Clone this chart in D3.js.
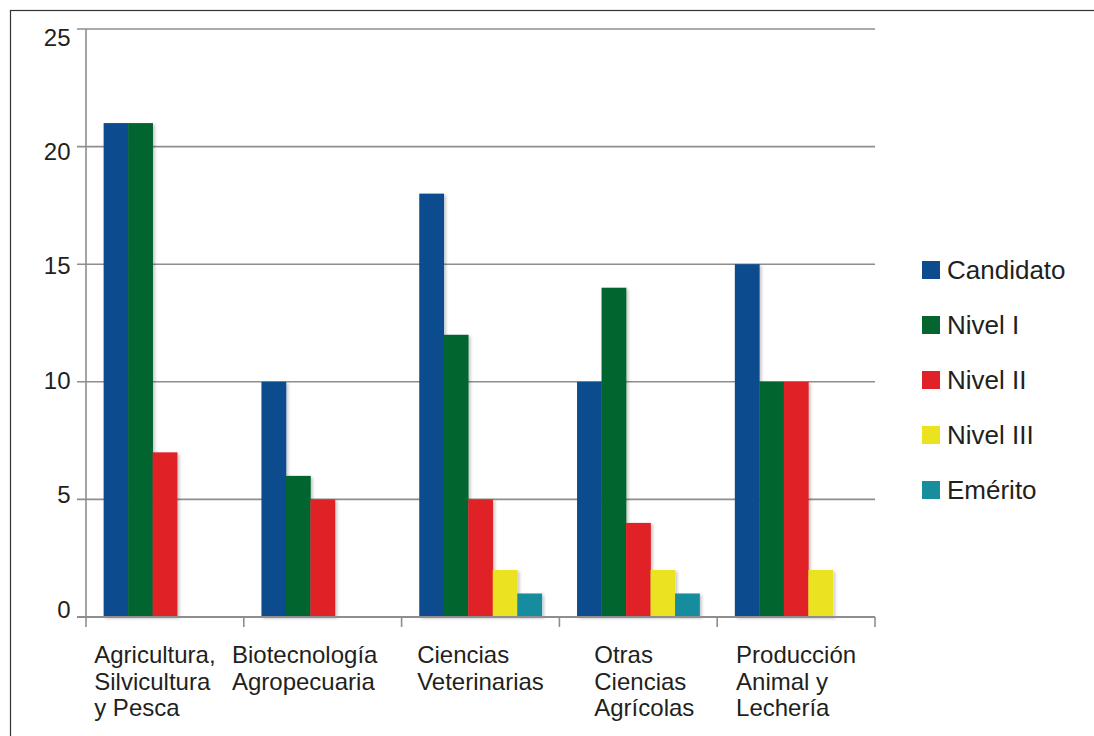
<!DOCTYPE html>
<html>
<head>
<meta charset="utf-8">
<script src="https://cdn.jsdelivr.net/npm/d3@7"></script>
<style>
  html, body { margin: 0; padding: 0; background: #fff; }
  svg { display: block; font-family: "Liberation Sans", Arial, sans-serif; }
</style>
</head>
<body>
<svg id="chart" width="1094" height="736"></svg>
<script>
// categories (one array of lines per label)
const categories = [
  ['Agricultura,', 'Silvicultura', 'y Pesca'],
  ['Biotecnología', 'Agropecuaria'],
  ['Ciencias', 'Veterinarias'],
  ['Otras', 'Ciencias', 'Agrícolas'],
  ['Producción', 'Animal y', 'Lechería']
];
const seriesNames = ['Candidato', 'Nivel I', 'Nivel II', 'Nivel III', 'Emérito'];
const candidato = [21, 10, 18, 10, 15];
const nivel1 = [21, 6, 12, 14, 10];
const nivel2 = [7, 5, 5, 4, 10];
const nivel3 = [0, 0, 2, 2, 2];
const emerito = [0, 0, 1, 1, 0];
const yTicks = [0, 5, 10, 15, 20, 25];

const seriesValues = [candidato, nivel1, nivel2, nivel3, emerito];
const colors = ['#0d4b8f', '#05652f', '#e02127', '#ebe220', '#178d9e'];
const textColor = '#231f20';
const gridColor = '#8e8e8e';

const svg = d3.select('#chart');

// outer frame, right/bottom edges fall outside the picture
svg.append('rect')
  .attr('x', 10.5).attr('y', 10.5)
  .attr('width', 1100).attr('height', 800)
  .attr('fill', 'none')
  .attr('stroke', '#333')
  .attr('stroke-width', 1.2);

const defs = svg.append('defs');
defs.append('filter')
  .attr('id', 'shadow')
  .attr('x', '-20%').attr('y', '-5%')
  .attr('width', '150%').attr('height', '115%')
  .append('feDropShadow')
  .attr('dx', 2).attr('dy', 1.5)
  .attr('stdDeviation', 1.6)
  .attr('flood-color', '#000')
  .attr('flood-opacity', 0.22);

const plot = { left: 86, right: 875, top: 29, bottom: 617 };

const x = d3.scaleBand()
  .domain(d3.range(categories.length))
  .range([plot.left, plot.right])
  .paddingInner(0)
  .paddingOuter(0);

const xs = d3.scaleBand()
  .domain(d3.range(seriesNames.length))
  .range([0, x.bandwidth()])
  .paddingInner(0)
  .paddingOuter(0.72);

const y = d3.scaleLinear()
  .domain([0, 25])
  .range([plot.bottom, plot.top]);

// labels of the value axis sit slightly inside the extreme gridlines
const yLabel = d3.scaleLinear()
  .domain([0, 25])
  .range([609, 37]);

// gridlines
svg.append('g')
  .selectAll('line')
  .data(yTicks)
  .join('line')
  .attr('x1', plot.left - 9)
  .attr('x2', plot.right)
  .attr('y1', d => y(d))
  .attr('y2', d => y(d))
  .attr('stroke', gridColor)
  .attr('stroke-width', 1.6);

// y tick labels
svg.append('g')
  .selectAll('text')
  .data(yTicks)
  .join('text')
  .attr('x', 70.5)
  .attr('y', d => yLabel(d))
  .attr('dy', '0.36em')
  .attr('text-anchor', 'end')
  .attr('font-size', 24)
  .attr('fill', textColor)
  .text(d => d);

// bars
const groups = svg.append('g')
  .selectAll('g')
  .data(categories.map((c, i) => i))
  .join('g')
  .attr('transform', i => `translate(${x(i)},0)`);

groups.selectAll('rect')
  .data(i => seriesValues.map((vals, s) => ({ s, v: vals[i] })).filter(d => d.v > 0))
  .join('rect')
  .attr('x', d => xs(d.s))
  .attr('width', xs.bandwidth() + 0.3)
  .attr('y', d => y(d.v))
  .attr('height', d => y(0) - y(d.v))
  .attr('fill', d => colors[d.s])
  .attr('filter', 'url(#shadow)');

// axes lines
svg.append('line')
  .attr('x1', plot.left).attr('x2', plot.left)
  .attr('y1', plot.top).attr('y2', plot.bottom + 10)
  .attr('stroke', gridColor).attr('stroke-width', 1.6);

svg.append('line')
  .attr('x1', plot.left - 9).attr('x2', plot.right)
  .attr('y1', plot.bottom).attr('y2', plot.bottom)
  .attr('stroke', gridColor).attr('stroke-width', 1.8);

svg.append('g')
  .selectAll('line')
  .data(d3.range(1, categories.length + 1))
  .join('line')
  .attr('x1', i => plot.left + i * x.step())
  .attr('x2', i => plot.left + i * x.step())
  .attr('y1', plot.bottom)
  .attr('y2', plot.bottom + 10)
  .attr('stroke', gridColor)
  .attr('stroke-width', 1.6);

// category labels: block centred under the band, left-aligned lines
const labelNudge = [-10, -18, 0, 6, 0];
const lineGap = 26.7;
const catLabels = svg.append('g')
  .selectAll('text')
  .data(categories)
  .join('text')
  .attr('font-size', 24)
  .attr('fill', textColor);

catLabels.each(function (lines, i) {
  const t = d3.select(this);
  lines.forEach((ln, k) => {
    t.append('tspan')
      .attr('y', 663 + k * lineGap)
      .text(ln);
  });
  let w = 0;
  t.selectAll('tspan').each(function () {
    w = Math.max(w, this.getComputedTextLength());
  });
  const start = x(i) + x.bandwidth() / 2 - w / 2 + labelNudge[i];
  t.selectAll('tspan').attr('x', start);
});

// legend
const legend = svg.append('g')
  .selectAll('g')
  .data(seriesNames)
  .join('g')
  .attr('transform', (d, i) => `translate(922,${270 + i * 55})`);

legend.append('rect')
  .attr('x', 0).attr('y', -9)
  .attr('width', 18).attr('height', 18)
  .attr('fill', (d, i) => colors[i]);

legend.append('text')
  .attr('x', 25)
  .attr('dy', '0.36em')
  .attr('font-size', 26)
  .attr('fill', textColor)
  .text(d => d);
</script>
</body>
</html>
